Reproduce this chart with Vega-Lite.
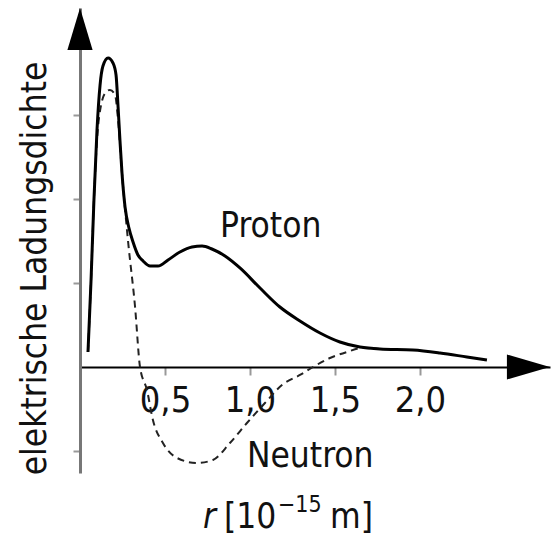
{
  "$schema": "https://vega.github.io/schema/vega-lite/v6.json",
  "width": 470,
  "height": 465,
  "autosize": {"type": "none"},
  "padding": {"left": 80, "top": 8, "right": 10, "bottom": 74},
  "background": "white",
  "config": {
    "view": {"stroke": null},
    "font": "Liberation Sans Narrow, DejaVu Sans Condensed, sans-serif"
  },
  "datasets": {
    "curves": [
      {"series": "Proton", "x": 0.047, "y": 0.179},
      {"series": "Proton", "x": 0.065, "y": 1.036},
      {"series": "Proton", "x": 0.082, "y": 1.988},
      {"series": "Proton", "x": 0.1, "y": 2.821},
      {"series": "Proton", "x": 0.118, "y": 3.357},
      {"series": "Proton", "x": 0.135, "y": 3.583},
      {"series": "Proton", "x": 0.165, "y": 3.679},
      {"series": "Proton", "x": 0.194, "y": 3.619},
      {"series": "Proton", "x": 0.212, "y": 3.476},
      {"series": "Proton", "x": 0.224, "y": 3.095},
      {"series": "Proton", "x": 0.235, "y": 2.702},
      {"series": "Proton", "x": 0.247, "y": 2.31},
      {"series": "Proton", "x": 0.265, "y": 1.905},
      {"series": "Proton", "x": 0.288, "y": 1.655},
      {"series": "Proton", "x": 0.312, "y": 1.488},
      {"series": "Proton", "x": 0.341, "y": 1.333},
      {"series": "Proton", "x": 0.371, "y": 1.262},
      {"series": "Proton", "x": 0.412, "y": 1.202},
      {"series": "Proton", "x": 0.459, "y": 1.202},
      {"series": "Proton", "x": 0.518, "y": 1.274},
      {"series": "Proton", "x": 0.588, "y": 1.369},
      {"series": "Proton", "x": 0.659, "y": 1.429},
      {"series": "Proton", "x": 0.718, "y": 1.44},
      {"series": "Proton", "x": 0.776, "y": 1.405},
      {"series": "Proton", "x": 0.853, "y": 1.321},
      {"series": "Proton", "x": 0.941, "y": 1.179},
      {"series": "Proton", "x": 1.059, "y": 0.94},
      {"series": "Proton", "x": 1.176, "y": 0.714},
      {"series": "Proton", "x": 1.294, "y": 0.548},
      {"series": "Proton", "x": 1.412, "y": 0.405},
      {"series": "Proton", "x": 1.529, "y": 0.298},
      {"series": "Proton", "x": 1.647, "y": 0.238},
      {"series": "Proton", "x": 1.765, "y": 0.214},
      {"series": "Proton", "x": 1.959, "y": 0.202},
      {"series": "Proton", "x": 2.118, "y": 0.167},
      {"series": "Proton", "x": 2.276, "y": 0.119},
      {"series": "Proton", "x": 2.394, "y": 0.083},
      {"series": "Neutron", "x": 0.047, "y": 0.179},
      {"series": "Neutron", "x": 0.065, "y": 1.036},
      {"series": "Neutron", "x": 0.082, "y": 1.988},
      {"series": "Neutron", "x": 0.1, "y": 2.702},
      {"series": "Neutron", "x": 0.124, "y": 3.119},
      {"series": "Neutron", "x": 0.153, "y": 3.274},
      {"series": "Neutron", "x": 0.176, "y": 3.298},
      {"series": "Neutron", "x": 0.206, "y": 3.24},
      {"series": "Neutron", "x": 0.224, "y": 2.94},
      {"series": "Neutron", "x": 0.247, "y": 2.31},
      {"series": "Neutron", "x": 0.282, "y": 1.512},
      {"series": "Neutron", "x": 0.324, "y": 0.714},
      {"series": "Neutron", "x": 0.353, "y": 0.0},
      {"series": "Neutron", "x": 0.394, "y": -0.274},
      {"series": "Neutron", "x": 0.429, "y": -0.631},
      {"series": "Neutron", "x": 0.488, "y": -0.905},
      {"series": "Neutron", "x": 0.571, "y": -1.083},
      {"series": "Neutron", "x": 0.688, "y": -1.143},
      {"series": "Neutron", "x": 0.782, "y": -1.107},
      {"series": "Neutron", "x": 0.882, "y": -0.905},
      {"series": "Neutron", "x": 0.982, "y": -0.667},
      {"series": "Neutron", "x": 1.088, "y": -0.429},
      {"series": "Neutron", "x": 1.188, "y": -0.214},
      {"series": "Neutron", "x": 1.294, "y": -0.095},
      {"series": "Neutron", "x": 1.371, "y": 0.0},
      {"series": "Neutron", "x": 1.471, "y": 0.107},
      {"series": "Neutron", "x": 1.571, "y": 0.179},
      {"series": "Neutron", "x": 1.659, "y": 0.226},
      {"series": "Neutron", "x": 1.765, "y": 0.214}
    ]
  },
  "encoding": {
    "x": {
      "field": "x",
      "type": "quantitative",
      "scale": {"domain": [0, 2.765], "nice": false, "zero": false},
      "axis": {
        "title": null,
        "values": [0.5, 1, 1.5, 2],
        "offset": -106,
        "grid": false,
        "domainColor": "black",
        "domainWidth": 2,
        "tickColor": "#999",
        "tickWidth": 2,
        "tickSize": 8,
        "labelFontSize": 36,
        "labelColor": "#111",
        "labelPadding": 8,
        "labelFlush": false,
        "labelOverlap": false,
        "labelExpr": "replace(format(datum.value, '.1f'), '.', ',')"
      }
    },
    "y": {
      "field": "y",
      "type": "quantitative",
      "scale": {"domain": [-1.262, 4.274], "nice": false, "zero": false},
      "axis": {
        "title": "elektrische Ladungsdichte",
        "values": [-1, 1, 2, 3],
        "labels": false,
        "grid": false,
        "domainColor": "#777",
        "domainWidth": 3,
        "tickColor": "#999",
        "tickWidth": 2,
        "tickSize": 7,
        "titleFontSize": 35,
        "titleFontWeight": "normal",
        "titleColor": "#111",
        "titleAngle": 270,
        "titleAlign": "center",
        "titleBaseline": "middle",
        "titleX": -46,
        "titleY": 260
      }
    }
  },
  "layer": [
    {
      "data": {"name": "curves"},
      "transform": [{"filter": "datum.series === 'Neutron'"}],
      "mark": {"type": "line", "interpolate": "monotone", "color": "#222", "strokeWidth": 2, "strokeDash": [7, 5]}
    },
    {
      "data": {"name": "curves"},
      "transform": [{"filter": "datum.series === 'Proton'"}],
      "mark": {"type": "line", "interpolate": "monotone", "color": "black", "strokeWidth": 3}
    },
    {
      "data": {"values": [{"x": 0, "y": 4.024}]},
      "mark": {"type": "point", "shape": "M0,-1L0.6,1L-0.6,1Z", "size": 1764, "filled": true, "color": "black", "opacity": 1, "strokeWidth": 0}
    },
    {
      "data": {"values": [{"x": 2.638, "y": 0}]},
      "mark": {"type": "point", "shape": "M1,0L-1,-0.58L-1,0.58Z", "size": 1849, "filled": true, "color": "black", "opacity": 1, "strokeWidth": 0}
    },
    {
      "data": {"values": [
        {"label": "Proton", "x": 0.824, "y": 1.548},
        {"label": "Neutron", "x": 0.982, "y": -1.19},
        {"label": "[10", "x": 0.847, "y": -1.917},
        {"label": "m]", "x": 1.471, "y": -1.917}
      ]},
      "mark": {"type": "text", "align": "left", "baseline": "alphabetic", "fontSize": 35, "color": "#111"},
      "encoding": {"text": {"field": "label"}}
    },
    {
      "data": {"values": [{"label": "r", "x": 0.724, "y": -1.917}]},
      "mark": {"type": "text", "align": "left", "baseline": "alphabetic", "fontSize": 35, "fontStyle": "italic", "color": "#111"},
      "encoding": {"text": {"field": "label"}}
    },
    {
      "data": {"values": [{"label": "−15", "x": 1.165, "y": -1.726}]},
      "mark": {"type": "text", "align": "left", "baseline": "alphabetic", "fontSize": 23, "color": "#111"},
      "encoding": {"text": {"field": "label"}}
    }
  ]
}
